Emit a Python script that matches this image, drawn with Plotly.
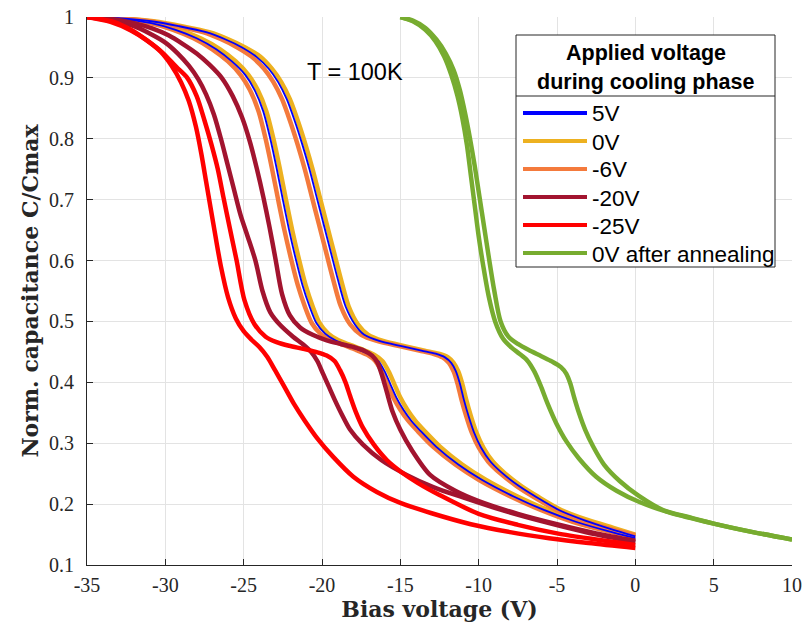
import plotly.graph_objects as go

# ---------------- data ----------------
# 5V / 0V / -6V : two sweeps each (left "L" and right "R")
orange_L_v = [-35, -33, -31, -29.5, -28.2, -27.0, -26.0, -25.2, -24.6, -24.05, -23.6, -23.2, -22.8, -22.4, -21.95, -21.55, -21.1, -20.65, -20.1, -19.4, -18.6, -17.8, -17.1, -16.6, -16.2, -15.85, -15.45, -15.0, -14.5, -13.9, -12.9, -11.5, -10, -8, -6, -4, -2, 0]
orange_L_c = [1.0, 0.997, 0.99, 0.979, 0.965, 0.947, 0.927, 0.905, 0.88, 0.845, 0.8, 0.752, 0.7, 0.65, 0.6, 0.56, 0.525, 0.497, 0.48, 0.469, 0.461, 0.453, 0.445, 0.435, 0.418, 0.398, 0.375, 0.355, 0.337, 0.32, 0.294, 0.265, 0.24, 0.213, 0.19, 0.171, 0.157, 0.146]
blue_L_v = [-35, -33, -30.9, -29.35, -28.0, -26.75, -25.75, -24.9, -24.3, -23.75, -23.3, -22.9, -22.5, -22.1, -21.65, -21.25, -20.8, -20.35, -19.8, -19.15, -18.4, -17.6, -16.9, -16.4, -16.0, -15.65, -15.25, -14.8, -14.3, -13.7, -12.7, -11.3, -9.8, -7.8, -5.8, -3.8, -1.8, 0]
blue_L_c = [1.0, 0.997, 0.99, 0.979, 0.965, 0.947, 0.927, 0.905, 0.88, 0.845, 0.8, 0.752, 0.7, 0.65, 0.6, 0.56, 0.525, 0.497, 0.48, 0.469, 0.461, 0.453, 0.445, 0.435, 0.418, 0.398, 0.375, 0.355, 0.337, 0.32, 0.294, 0.265, 0.24, 0.213, 0.19, 0.171, 0.156, 0.144]
yellow_L_v = [-35, -33, -30.75, -29.1, -27.75, -26.5, -25.5, -24.7, -24.1, -23.55, -23.1, -22.7, -22.3, -21.9, -21.45, -21.05, -20.6, -20.15, -19.6, -18.95, -18.15, -17.35, -16.65, -16.15, -15.75, -15.4, -15.0, -14.55, -14.05, -13.45, -12.45, -11.05, -9.55, -7.55, -5.55, -3.55, -1.55, 0]
yellow_L_c = [1.0, 0.997, 0.99, 0.979, 0.965, 0.947, 0.927, 0.905, 0.88, 0.845, 0.8, 0.752, 0.7, 0.65, 0.6, 0.56, 0.525, 0.497, 0.48, 0.469, 0.461, 0.453, 0.445, 0.435, 0.418, 0.398, 0.375, 0.355, 0.337, 0.32, 0.294, 0.265, 0.24, 0.213, 0.19, 0.172, 0.159, 0.148]

orange_R_v = [-35, -33, -31, -29.3, -27.6, -26.4, -25.4, -24.5, -23.7, -23.1, -22.55, -22.05, -21.55, -21.1, -20.65, -20.2, -19.75, -19.3, -18.8, -18.2, -17.5, -16.5, -15.0, -13.8, -12.9, -12.3, -11.9, -11.6, -11.35, -11.1, -10.8, -10.45, -10.0, -9.4, -8.6, -7.6, -6.5, -5.0, -3.35, -1.7, 0]
orange_R_c = [1.0, 0.998, 0.993, 0.985, 0.975, 0.963, 0.95, 0.935, 0.915, 0.893, 0.865, 0.83, 0.79, 0.75, 0.705, 0.66, 0.615, 0.57, 0.525, 0.495, 0.478, 0.468, 0.459, 0.452, 0.447, 0.441, 0.432, 0.418, 0.398, 0.372, 0.345, 0.318, 0.293, 0.27, 0.25, 0.23, 0.212, 0.19, 0.173, 0.16, 0.149]
blue_R_v = [-35, -33, -30.9, -29.15, -27.4, -26.15, -25.1, -24.2, -23.4, -22.8, -22.25, -21.75, -21.25, -20.8, -20.35, -19.9, -19.45, -19.0, -18.5, -17.9, -17.3, -16.35, -14.85, -13.65, -12.75, -12.15, -11.75, -11.45, -11.2, -10.95, -10.65, -10.3, -9.85, -9.25, -8.45, -7.45, -6.35, -4.85, -3.2, -1.55, 0]
blue_R_c = [1.0, 0.998, 0.993, 0.985, 0.975, 0.963, 0.95, 0.935, 0.915, 0.893, 0.865, 0.83, 0.79, 0.75, 0.705, 0.66, 0.615, 0.57, 0.525, 0.495, 0.478, 0.468, 0.459, 0.452, 0.447, 0.441, 0.432, 0.418, 0.398, 0.372, 0.345, 0.318, 0.293, 0.27, 0.25, 0.23, 0.212, 0.19, 0.173, 0.159, 0.147]
yellow_R_v = [-35, -33, -30.75, -28.95, -27.2, -25.95, -24.9, -23.95, -23.2, -22.6, -22.05, -21.55, -21.05, -20.6, -20.15, -19.7, -19.25, -18.8, -18.3, -17.7, -17.05, -16.1, -14.65, -13.45, -12.55, -11.95, -11.6, -11.3, -11.05, -10.8, -10.5, -10.15, -9.7, -9.1, -8.3, -7.3, -6.2, -4.7, -3.05, -1.4, 0]
yellow_R_c = [1.0, 0.998, 0.993, 0.985, 0.975, 0.963, 0.95, 0.935, 0.915, 0.893, 0.865, 0.83, 0.79, 0.75, 0.705, 0.66, 0.615, 0.57, 0.525, 0.495, 0.478, 0.468, 0.459, 0.452, 0.447, 0.441, 0.432, 0.418, 0.398, 0.372, 0.345, 0.318, 0.293, 0.27, 0.25, 0.23, 0.212, 0.19, 0.174, 0.161, 0.150]

# -20V
dred_L_v = [-35, -33.5, -32, -31, -30, -29.2, -28.5, -27.9, -27.4, -26.9, -26.45, -26.05, -25.65, -25.2, -24.75, -24.25, -23.8, -23.3, -22.7, -21.85, -21.2, -20.7, -20.3, -19.95, -19.6, -19.2, -18.75, -18.2, -17.4, -16.2, -14.6, -12.9, -11, -8.5, -6, -3, 0]
dred_L_c = [1.0, 0.995, 0.985, 0.973, 0.958, 0.94, 0.92, 0.898, 0.873, 0.84, 0.8, 0.76, 0.72, 0.675, 0.64, 0.6, 0.55, 0.515, 0.495, 0.475, 0.462, 0.45, 0.435, 0.415, 0.395, 0.372, 0.348, 0.322, 0.298, 0.272, 0.248, 0.228, 0.211, 0.19, 0.172, 0.153, 0.138]
dred_R_v = [-35, -33.5, -32, -30.8, -29.8, -28.9, -28.0, -27.2, -26.4, -25.7, -25.1, -24.6, -24.15, -23.75, -23.35, -22.95, -22.55, -22.05, -21.4, -20.6, -19.7, -18.8, -18.0, -17.3, -16.8, -16.45, -16.15, -15.85, -15.5, -15.0, -14.3, -13.1, -11.5, -10, -7.5, -5, -2.5, 0]
dred_R_c = [1.0, 0.997, 0.99, 0.981, 0.97, 0.956, 0.94, 0.922, 0.9, 0.87, 0.835, 0.795, 0.75, 0.705, 0.655, 0.6, 0.545, 0.51, 0.49, 0.478, 0.469, 0.463, 0.458, 0.452, 0.444, 0.432, 0.41, 0.383, 0.352, 0.322, 0.29, 0.248, 0.222, 0.205, 0.184, 0.167, 0.152, 0.14]

# -25V
red_L_v = [-35, -33.5, -32.2, -31.2, -30.3, -29.6, -29.0, -28.5, -28.05, -27.7, -27.4, -27.1, -26.8, -26.45, -26.0, -25.5, -25.0, -24.5, -24.0, -23.5, -23.0, -22.45, -21.8, -21.1, -20.3, -19.3, -18.0, -16.5, -15.0, -13.0, -10.5, -8, -5.5, -3, 0]
red_L_c = [1.0, 0.992, 0.978, 0.962, 0.943, 0.92, 0.893, 0.862, 0.82, 0.775, 0.73, 0.685, 0.64, 0.59, 0.54, 0.505, 0.484, 0.47, 0.458, 0.442, 0.42, 0.395, 0.365, 0.337, 0.308, 0.278, 0.245, 0.22, 0.202, 0.185, 0.167, 0.154, 0.144, 0.136, 0.128]
red_R_v = [-35, -33.3, -32.2, -31.2, -30.2, -29.3, -28.6, -28.0, -27.5, -27.05, -26.65, -26.3, -25.9, -25.45, -24.95, -24.3, -23.6, -22.9, -22.1, -21.2, -20.4, -19.7, -19.2, -18.85, -18.5, -18.2, -17.85, -17.4, -16.7, -15.85, -14.9, -13.9, -12.5, -10, -7.5, -5, -2.5, 0]
red_R_c = [1.0, 0.992, 0.979, 0.962, 0.942, 0.918, 0.9, 0.87, 0.83, 0.79, 0.75, 0.705, 0.655, 0.6, 0.535, 0.495, 0.475, 0.466, 0.46, 0.455, 0.45, 0.444, 0.435, 0.42, 0.4, 0.377, 0.352, 0.326, 0.298, 0.272, 0.252, 0.235, 0.215, 0.184, 0.166, 0.152, 0.142, 0.133]

# 0V after annealing
green_L_v = [-15, -14.2, -13.4, -12.75, -12.2, -11.75, -11.35, -11.05, -10.75, -10.5, -10.25, -10.0, -9.7, -9.35, -8.95, -8.45, -7.9, -7.4, -6.9, -6.45, -6.05, -5.6, -5.05, -4.4, -3.6, -2.5, -1.2, 0.3, 2.2, 5.0, 7.5, 10]
green_L_c = [1.0, 0.993, 0.979, 0.96, 0.935, 0.905, 0.87, 0.835, 0.79, 0.74, 0.69, 0.64, 0.59, 0.54, 0.5, 0.472, 0.457, 0.447, 0.436, 0.418, 0.395, 0.365, 0.333, 0.303, 0.275, 0.245, 0.222, 0.203, 0.186, 0.168, 0.154, 0.142]
green_R_v = [-15, -14.2, -13.4, -12.7, -12.1, -11.6, -11.2, -10.85, -10.55, -10.25, -9.95, -9.65, -9.35, -9.0, -8.6, -8.1, -7.5, -6.8, -6.0, -5.3, -4.75, -4.4, -4.15, -3.9, -3.6, -3.2, -2.7, -2.0, -1.0, 0.2, 1.8, 3.5, 5.0, 7.5, 10]
green_R_c = [1.0, 0.994, 0.982, 0.963, 0.94, 0.913, 0.88, 0.84, 0.8, 0.755, 0.705, 0.655, 0.605, 0.55, 0.5, 0.475, 0.463, 0.453, 0.443, 0.434, 0.425, 0.414, 0.398, 0.375, 0.35, 0.322, 0.295, 0.265, 0.238, 0.214, 0.19, 0.178, 0.168, 0.154, 0.142]

legend_title = ["Applied voltage", "during cooling phase"]
legend_names = ["5V", "0V", "-6V", "-20V", "-25V", "0V after annealing"]
x_ticks = [-35, -30, -25, -20, -15, -10, -5, 0, 5, 10]
y_ticks = [0.1, 0.2, 0.3, 0.4, 0.5, 0.6, 0.7, 0.8, 0.9, 1]
y_tick_text = ["0.1", "0.2", "0.3", "0.4", "0.5", "0.6", "0.7", "0.8", "0.9", "1"]

# ---------------- styles ----------------
C_BLUE = "#0000FF"
C_YELLOW = "#EDB120"
C_ORANGE = "#F47A3C"
C_DRED = "#A2142F"
C_RED = "#FF0000"
C_GREEN = "#77AC30"
legend_colors = [C_BLUE, C_YELLOW, C_ORANGE, C_DRED, C_RED, C_GREEN]

W, H = 805, 628
ML, MR, MT, MB = 87, 13, 17, 63
PW, PH = W - ML - MR, H - MT - MB


def px_x(p):
    return (p - ML) / PW


def px_y(p):
    return 1 - (p - MT) / PH


fig = go.Figure()


def curve(x, y, color, name, width=4.5):
    fig.add_trace(go.Scatter(x=x, y=y, mode="lines", name=name, showlegend=False,
                             line=dict(color=color, width=width, shape="spline", smoothing=0.8)))


curve(yellow_L_v, yellow_L_c, C_YELLOW, "0V")
curve(yellow_R_v, yellow_R_c, C_YELLOW, "0V")
curve(orange_L_v, orange_L_c, C_ORANGE, "-6V")
curve(orange_R_v, orange_R_c, C_ORANGE, "-6V")
curve(blue_L_v, blue_L_c, C_BLUE, "5V", 1.8)
curve(blue_R_v, blue_R_c, C_BLUE, "5V", 1.8)
curve(dred_L_v, dred_L_c, C_DRED, "-20V")
curve(dred_R_v, dred_R_c, C_DRED, "-20V")
curve(red_L_v, red_L_c, C_RED, "-25V")
curve(red_R_v, red_R_c, C_RED, "-25V")
curve(green_L_v, green_L_c, C_GREEN, "0V after annealing")
curve(green_R_v, green_R_c, C_GREEN, "0V after annealing")

# ---------------- legend box (drawn like the MATLAB legend) ----------------
shapes = [
    dict(type="rect", xref="paper", yref="paper", x0=px_x(516), x1=px_x(775), y0=px_y(267), y1=px_y(35),
         line=dict(color="#262626", width=1), fillcolor="white", layer="above"),
    dict(type="line", xref="paper", yref="paper", x0=px_x(516), x1=px_x(775), y0=px_y(96), y1=px_y(96),
         line=dict(color="#262626", width=1), layer="above"),
]
annotations = []
for i, t in enumerate(legend_title):
    annotations.append(dict(xref="paper", yref="paper", x=px_x(645.5), y=px_y(53 + 29 * i), text="<b>%s</b>" % t,
                            showarrow=False, xanchor="center", yanchor="middle",
                            font=dict(family="Liberation Sans, Arial", size=21.5, color="#000000")))
item_y = [113, 141, 169, 197, 225, 253]
for name, col, yy in zip(legend_names, legend_colors, item_y):
    shapes.append(dict(type="line", xref="paper", yref="paper", x0=px_x(523), x1=px_x(587),
                       y0=px_y(yy), y1=px_y(yy), line=dict(color=col, width=4), layer="above"))
    annotations.append(dict(xref="paper", yref="paper", x=px_x(590), y=px_y(yy + 1), text=name,
                            showarrow=False, xanchor="left", yanchor="middle",
                            font=dict(family="Liberation Sans, Arial", size=22.5, color="#000000")))

annotations.append(dict(x=-17.9, y=0.91, text="T = 100K", showarrow=False,
                        font=dict(family="Liberation Sans, Arial", size=23.5, color="#000000")))

tick_font = dict(family="Liberation Serif", size=20, color="#262626")
title_font = dict(family="DejaVu Serif", size=22, color="#262626")

fig.update_layout(
    width=W, height=H,
    margin=dict(l=ML, r=MR, t=MT, b=MB, autoexpand=False),
    paper_bgcolor="white", plot_bgcolor="white",
    showlegend=False,
    shapes=shapes,
    annotations=annotations,
    xaxis=dict(range=[-35, 10], tickvals=x_ticks, ticktext=[str(v) for v in x_ticks],
               automargin=False,
               showgrid=True, gridcolor="#E3E3E3", gridwidth=1, zeroline=False,
               showline=True, linecolor="#262626", linewidth=1.2,
               ticks="inside", ticklen=6, tickcolor="#262626",
               tickfont=tick_font, ticklabelstandoff=2,
               title=dict(text="<b>Bias voltage (V)</b>", font=title_font, standoff=0)),
    yaxis=dict(range=[0.1, 1], tickvals=y_ticks, ticktext=y_tick_text,
               automargin=False,
               showgrid=True, gridcolor="#E3E3E3", gridwidth=1, zeroline=False,
               showline=True, linecolor="#262626", linewidth=1.2,
               ticks="inside", ticklen=6, tickcolor="#262626",
               tickfont=tick_font, ticklabelstandoff=8,
               title=dict(text="<b>Norm. capacitance C/Cmax</b>", font=title_font, standoff=4)),
)

fig.write_html("out.html")
